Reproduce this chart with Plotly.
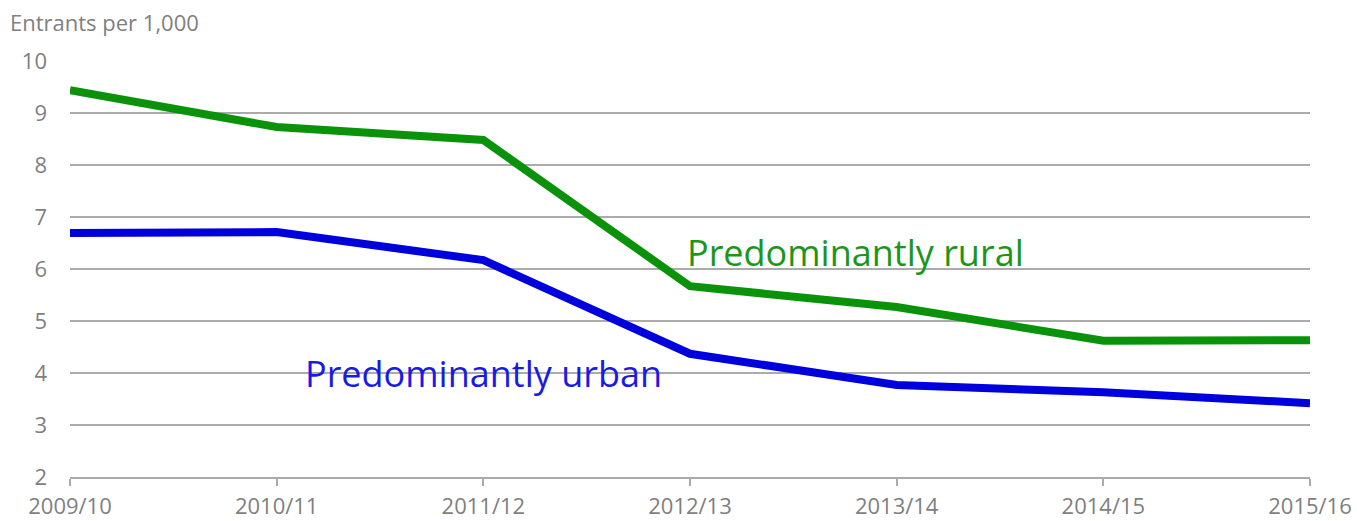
import plotly.graph_objects as go

years = ["2009/10", "2010/11", "2011/12", "2012/13", "2013/14", "2014/15", "2015/16"]
rural = [9.44, 8.73, 8.48, 5.67, 5.27, 4.62, 4.63]
urban = [6.69, 6.71, 6.17, 4.37, 3.77, 3.63, 3.42]

FONT = "Open Sans"
GREY = "#7f7f7f"
GRID = "#ababab"

fig = go.Figure()
fig.add_trace(go.Scatter(x=list(range(len(years))), y=rural, mode="lines",
                         line=dict(color="#0a930a", width=8), name="Predominantly rural"))
fig.add_trace(go.Scatter(x=list(range(len(years))), y=urban, mode="lines",
                         line=dict(color="#0000dd", width=8), name="Predominantly urban"))

fig.add_annotation(x=3.0, y=6.32, xref="x", yref="y", text="Predominantly rural",
                   showarrow=False, xanchor="left", yanchor="middle", xshift=-5,
                   font=dict(family=FONT, size=36, color="#1a961a"))
fig.add_annotation(x=1.15, y=4.0, xref="x", yref="y", text="Predominantly urban",
                   showarrow=False, xanchor="left", yanchor="middle", xshift=-5,
                   font=dict(family=FONT, size=36, color="#1a1ae6"))
fig.add_annotation(x=0, y=1, xref="paper", yref="paper", xshift=-62, yshift=39,
                   text="Entrants per 1,000", showarrow=False,
                   xanchor="left", yanchor="middle",
                   font=dict(family=FONT, size=22, color=GREY))

fig.update_layout(
    width=1357, height=521,
    margin=dict(l=70, r=47, t=61, b=44),
    plot_bgcolor="white", paper_bgcolor="white",
    showlegend=False,
    font=dict(family=FONT, color=GREY, size=22),
    xaxis=dict(tickmode="array", tickvals=list(range(len(years))), ticktext=years,
               range=[0, len(years) - 1], showgrid=False, zeroline=False,
               automargin=False,
               showline=True, linecolor=GRID, linewidth=2,
               ticks="outside", ticklen=7, tickwidth=2, tickcolor=GRID,
               ticklabelstandoff=2,
               tickfont=dict(family=FONT, size=22, color=GREY)),
    yaxis=dict(range=[2, 10], dtick=1, showgrid=True, gridcolor=GRID, gridwidth=2,
               automargin=False,
               zeroline=False, showline=False, ticks="", ticklabelstandoff=22,
               tickfont=dict(family=FONT, size=22, color=GREY)),
)

fig.write_html("out.html")
